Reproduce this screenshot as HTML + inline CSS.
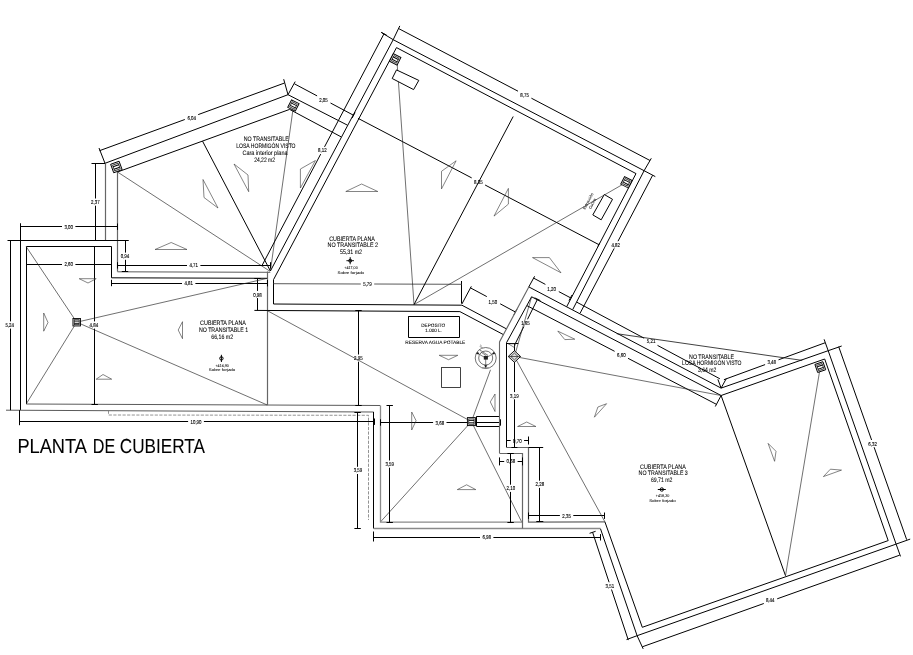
<!DOCTYPE html>
<html><head><meta charset="utf-8"><title>Planta de cubierta</title>
<style>
html,body{margin:0;padding:0;background:#fff}
svg{display:block;filter:grayscale(1)}
text{font-family:"Liberation Sans",sans-serif;fill:#000;stroke:#000;stroke-width:.07;text-rendering:geometricPrecision}
.k{fill:none;stroke:#000;stroke-width:1}
.t{fill:none;stroke:#222;stroke-width:.65}
.k2{fill:none;stroke:#5a5a5a;stroke-width:1}
.g1{fill:none;stroke:#666;stroke-width:1.2}
.g2{fill:none;stroke:#666;stroke-width:1.1}
.t2{fill:none;stroke:#111;stroke-width:.8}
.g{fill:none;stroke:#8a8a8a;stroke-width:1.3}
.d{fill:none;stroke:#777;stroke-width:.8;stroke-dasharray:3.2 1.4}
.tr{fill:none;stroke:#333;stroke-width:.6}
.dm{fill:#000;stroke:#000;stroke-width:.12}
.sm{fill:#000;stroke:#000;stroke-width:.06}
.kw{fill:#fff;stroke:#000;stroke-width:1}
</style></head><body>
<svg width="913" height="655" viewBox="0 0 913 655">
<rect width="913" height="655" fill="#fff"/>
<polyline class="k" points="105.0,163.3 288.0,94.7 347.5,125.2"/>
<polyline class="g1" points="105.5,240.0 105.5,163.3"/>
<polyline class="k" points="117.5,172.0 289.6,109.4 341.0,136.8"/>
<polyline class="g1" points="117.5,271.6 117.5,172.0"/>
<polyline class="k" points="105.0,163.3 99.0,148.0"/>
<polyline class="k" points="91.5,163.5 105.0,163.5"/>
<polyline class="k" points="288.0,94.7 283.7,79.2"/>
<polyline class="k" points="288.0,94.7 295.2,81.6"/>
<polyline class="k" points="99.5,150.7 184.8,119.5"/>
<polyline class="k" points="198.2,114.6 284.3,83.1"/>
<text x="191.7" y="119.5" font-size="5.6" text-anchor="middle" textLength="8.6" lengthAdjust="spacingAndGlyphs" class="dm">6,04</text>
<polyline class="k" points="294.4,83.8 317.1,95.9"/>
<polyline class="k" points="330.5,103.0 353.6,115.3"/>
<polyline class="k" points="352.1,118.1 355.1,112.5"/>
<text x="323.5" y="102.0" font-size="5.6" text-anchor="middle" textLength="8.6" lengthAdjust="spacingAndGlyphs" class="dm">2,05</text>
<polyline class="k" points="95.5,163.3 95.5,198.5"/>
<polyline class="k" points="95.5,205.7 95.5,240.0"/>
<polyline class="k" points="92.1,240.5 98.5,240.5"/>
<text x="95.3" y="204.1" font-size="5.6" text-anchor="middle" textLength="8.6" lengthAdjust="spacingAndGlyphs" class="dm">2,37</text>
<polyline class="t" points="117.5,172.0 270.0,271.3"/>
<polyline class="k" points="202.5,141.1 270.4,271.0"/>
<polyline class="t" points="293.5,105.7 270.4,271.0"/>
<polyline class="k" points="20.5,240.0 20.5,410.2"/>
<polyline class="k" points="7.5,240.5 128.7,240.5"/>
<polyline class="k2" points="117.5,271.8 270.3,272.3"/>
<polyline class="k" points="26.5,404.0 26.5,246.5 111.5,246.5 111.5,277.8 267.3,278.3"/>
<polyline class="k2" points="26.2,404.0 380.2,405.5"/>
<polyline class="k2" points="6.0,410.2 373.7,412.0"/>
<polyline class="g1" points="267.5,271.5 267.5,405.2"/>
<polyline class="k" points="20.0,226.5 62.0,226.5"/>
<polyline class="k" points="75.4,226.5 117.5,226.5"/>
<polyline class="k" points="20.5,229.9 20.5,223.5"/>
<polyline class="k" points="117.5,229.9 117.5,223.5"/>
<text x="68.7" y="228.7" font-size="5.6" text-anchor="middle" textLength="8.6" lengthAdjust="spacingAndGlyphs" class="dm">3,00</text>
<polyline class="k" points="20.5,223.5 20.5,240.0"/>
<polyline class="k" points="26.2,264.5 62.0,264.5"/>
<polyline class="k" points="75.4,264.5 111.5,264.5"/>
<polyline class="k" points="26.5,267.4 26.5,261.0"/>
<polyline class="k" points="111.5,267.4 111.5,261.0"/>
<text x="68.7" y="266.2" font-size="5.6" text-anchor="middle" textLength="8.6" lengthAdjust="spacingAndGlyphs" class="dm">2,60</text>
<polyline class="k" points="117.5,265.5 187.0,265.5"/>
<polyline class="k" points="200.4,265.5 270.6,265.5"/>
<polyline class="k" points="117.5,268.6 117.5,262.2"/>
<polyline class="k" points="270.5,268.6 270.5,262.2"/>
<text x="193.7" y="267.4" font-size="5.6" text-anchor="middle" textLength="8.6" lengthAdjust="spacingAndGlyphs" class="dm">4,71</text>
<polyline class="k" points="111.5,283.5 182.0,283.5"/>
<polyline class="k" points="195.4,283.5 267.4,283.5"/>
<polyline class="k" points="111.5,286.2 111.5,279.8"/>
<polyline class="k" points="267.5,286.4 267.5,280.0"/>
<text x="188.7" y="285.1" font-size="5.6" text-anchor="middle" textLength="8.6" lengthAdjust="spacingAndGlyphs" class="dm">4,81</text>
<polyline class="k" points="125.5,240.0 125.5,252.6"/>
<polyline class="k" points="125.5,259.8 125.5,271.4"/>
<polyline class="k" points="121.8,240.5 128.2,240.5"/>
<polyline class="k" points="121.8,271.5 128.2,271.5"/>
<text x="125.0" y="258.2" font-size="5.6" text-anchor="middle" textLength="8.6" lengthAdjust="spacingAndGlyphs" class="dm">0,94</text>
<polyline class="k" points="257.5,278.2 257.5,290.9"/>
<polyline class="k" points="257.5,298.1 257.5,310.4"/>
<polyline class="k" points="254.3,278.5 260.7,278.5"/>
<text x="257.5" y="296.5" font-size="5.6" text-anchor="middle" textLength="8.6" lengthAdjust="spacingAndGlyphs" class="dm">0,98</text>
<polyline class="k" points="94.5,246.7 94.5,321.4"/>
<polyline class="k" points="94.5,328.6 94.5,404.2"/>
<polyline class="k" points="91.5,246.5 97.9,246.5"/>
<polyline class="k" points="91.5,404.5 97.9,404.5"/>
<text x="93.9" y="327.0" font-size="5.6" text-anchor="middle" textLength="8.6" lengthAdjust="spacingAndGlyphs" class="dm">4,84</text>
<polyline class="k" points="10.5,240.0 10.5,321.4"/>
<polyline class="k" points="10.5,328.6 10.5,410.2"/>
<text x="9.7" y="327.0" font-size="5.6" text-anchor="middle" textLength="8.6" lengthAdjust="spacingAndGlyphs" class="dm">5,24</text>
<polyline class="k" points="19.8,421.5 188.1,421.5"/>
<polyline class="k" points="203.9,421.5 374.2,421.5"/>
<polyline class="k" points="374.5,424.9 374.5,418.5"/>
<text x="196.0" y="423.7" font-size="5.6" text-anchor="middle" textLength="11.0" lengthAdjust="spacingAndGlyphs" class="dm">10,90</text>
<polyline class="k" points="19.5,410.2 19.5,425.2"/>
<polyline class="t" points="76.7,322.2 26.2,246.7"/>
<polyline class="t" points="76.7,322.2 26.2,404.0"/>
<polyline class="t" points="76.7,322.2 267.3,278.3"/>
<polyline class="t" points="76.7,322.2 267.0,404.9"/>
<polyline class="k" points="399.8,25.9 393.2,39.7 270.4,271.0"/>
<polyline class="k" points="381.4,32.5 393.2,39.7 644.1,170.7 655.3,176.6"/>
<polyline class="k" points="651.3,158.3 644.1,170.7 572.7,309.6"/>
<polyline class="k" points="273.6,279.5 396.5,47.6 636.0,173.6 566.7,306.7"/>
<polyline class="k" points="273.5,279.5 273.5,304.0 461.9,305.2 506.7,329.0"/>
<polyline class="k" points="254.4,310.4 459.9,311.6 503.8,334.8"/>
<polyline class="k" points="461.5,281.0 461.5,303.5"/>
<polyline class="k" points="461.9,304.0 471.3,286.4"/>
<polyline class="k" points="384.0,33.8 324.5,146.9"/>
<polyline class="k" points="320.7,154.1 262.2,265.2"/>
<polyline class="k" points="381.2,32.3 386.8,35.3"/>
<text x="322.4" y="152.4" font-size="5.6" text-anchor="middle" textLength="8.6" lengthAdjust="spacingAndGlyphs" class="dm">8,12</text>
<polyline class="k" points="398.5,28.5 518.0,91.2"/>
<polyline class="k" points="531.4,98.2 650.0,160.5"/>
<text x="524.6" y="96.9" font-size="5.6" text-anchor="middle" textLength="8.6" lengthAdjust="spacingAndGlyphs" class="dm">8,75</text>
<polyline class="k" points="652.6,175.3 618.0,241.2"/>
<polyline class="k" points="614.2,248.4 580.2,313.0"/>
<text x="615.7" y="246.6" font-size="5.6" text-anchor="middle" textLength="8.6" lengthAdjust="spacingAndGlyphs" class="dm">4,82</text>
<polyline class="k" points="358.0,118.3 471.7,177.9"/>
<polyline class="k" points="485.1,185.0 598.8,244.6"/>
<polyline class="k" points="597.9,246.4 599.7,242.8"/>
<text x="478.4" y="183.5" font-size="5.6" text-anchor="middle" textLength="8.6" lengthAdjust="spacingAndGlyphs" class="dm">8,35</text>
<polyline class="k2" points="273.6,283.7 360.8,284.0"/>
<polyline class="k2" points="374.2,284.0 461.5,284.3"/>
<text x="367.5" y="286.1" font-size="5.6" text-anchor="middle" textLength="8.6" lengthAdjust="spacingAndGlyphs" class="dm">5,79</text>
<polyline class="k" points="470.3,287.8 486.8,296.6"/>
<polyline class="k" points="500.2,303.8 515.4,312.0"/>
<polyline class="k" points="513.9,314.8 516.9,309.2"/>
<text x="492.8" y="303.5" font-size="5.6" text-anchor="middle" textLength="8.6" lengthAdjust="spacingAndGlyphs" class="dm">1,50</text>
<polyline class="t" points="396.9,60.0 414.0,304.6"/>
<polyline class="k" points="513.2,116.5 414.0,304.6"/>
<polyline class="t" points="626.0,182.5 414.0,304.6"/>
<polyline class="k" points="408.1,316.5 459.5,316.5 459.5,337.5 408.5,337.5 408.5,316.7"/>
<polyline class="t2" points="441.1,367.5 460.5,367.5 460.5,387.5 441.5,387.5 441.5,367.6"/>
<polyline class="k" points="358.5,310.8 358.5,354.5"/>
<polyline class="k" points="358.5,361.7 358.5,405.6"/>
<polyline class="k" points="355.3,310.5 361.7,310.5"/>
<polyline class="k" points="355.3,405.5 361.7,405.5"/>
<text x="358.4" y="360.1" font-size="5.6" text-anchor="middle" textLength="8.6" lengthAdjust="spacingAndGlyphs" class="dm">2,95</text>
<polyline class="t" points="267.2,310.6 471.4,421.6"/>
<polyline class="t" points="471.4,421.6 380.4,522.0"/>
<polyline class="t" points="471.4,421.6 521.6,521.8"/>
<polyline class="t" points="471.4,421.6 490.5,369.8"/>
<polyline class="g" points="380.5,405.5 380.5,522.0 522.3,522.2"/>
<polyline class="k" points="373.5,412.0 373.5,528.5"/>
<polyline class="g" points="373.7,528.5 600.5,528.5"/>
<polyline class="d" points="108.5,410.6 108.5,415.0 368.5,415.3 368.5,520.0"/>
<polyline class="g1" points="499.8,453.5 522.5,453.5 522.5,528.4"/>
<polyline class="g1" points="506.2,447.5 528.5,447.5 528.5,522.2 604.9,521.8"/>
<polyline class="k" points="357.5,412.0 357.5,466.8"/>
<polyline class="k" points="357.5,474.0 357.5,528.5"/>
<polyline class="k" points="354.4,412.5 360.8,412.5"/>
<polyline class="k" points="354.4,528.5 360.8,528.5"/>
<text x="358.0" y="472.4" font-size="5.6" text-anchor="middle" textLength="8.6" lengthAdjust="spacingAndGlyphs" class="dm">3,59</text>
<polyline class="k" points="389.5,405.8 389.5,460.5"/>
<polyline class="k" points="389.5,467.7 389.5,522.0"/>
<polyline class="k" points="386.5,405.5 392.9,405.5"/>
<polyline class="k" points="386.5,522.5 392.9,522.5"/>
<text x="389.7" y="466.1" font-size="5.6" text-anchor="middle" textLength="8.6" lengthAdjust="spacingAndGlyphs" class="dm">3,59</text>
<polyline class="k" points="380.4,422.5 433.1,422.5"/>
<polyline class="k" points="446.5,422.5 500.0,422.5"/>
<polyline class="k" points="380.5,425.7 380.5,419.3"/>
<polyline class="k" points="500.5,425.7 500.5,419.3"/>
<text x="439.8" y="424.5" font-size="5.6" text-anchor="middle" textLength="8.6" lengthAdjust="spacingAndGlyphs" class="dm">3,68</text>
<polyline class="k" points="476.7,416.5 500.0,416.5"/>
<polyline class="k" points="476.7,426.5 500.0,426.5"/>
<polyline class="k" points="476.5,416.3 476.5,426.5"/>
<polyline class="k" points="373.6,537.5 480.0,537.5"/>
<polyline class="k" points="493.4,537.5 600.5,537.5"/>
<polyline class="k" points="373.5,540.3 373.5,533.9"/>
<polyline class="k" points="600.5,540.5 600.5,534.1"/>
<text x="486.7" y="539.3" font-size="5.6" text-anchor="middle" textLength="8.6" lengthAdjust="spacingAndGlyphs" class="dm">6,98</text>
<polyline class="k" points="373.5,531.5 373.5,541.5"/>
<polyline class="k" points="528.5,515.5 559.9,515.5"/>
<polyline class="k" points="573.3,515.5 604.9,515.5"/>
<polyline class="k" points="528.5,518.9 528.5,512.5"/>
<polyline class="k" points="604.5,518.9 604.5,512.5"/>
<text x="566.6" y="517.6" font-size="5.6" text-anchor="middle" textLength="8.6" lengthAdjust="spacingAndGlyphs" class="dm">2,35</text>
<polyline class="k" points="539.5,447.1 539.5,480.7"/>
<polyline class="k" points="539.5,487.9 539.5,521.2"/>
<polyline class="k" points="536.3,521.5 543.3,521.5"/>
<text x="539.8" y="486.3" font-size="5.6" text-anchor="middle" textLength="8.6" lengthAdjust="spacingAndGlyphs" class="dm">2,28</text>
<polyline class="k" points="528.5,447.5 543.2,447.5"/>
<polyline class="k" points="510.5,453.6 510.5,484.7"/>
<polyline class="k" points="510.5,491.9 510.5,522.2"/>
<polyline class="k" points="507.4,453.5 513.8,453.5"/>
<polyline class="k" points="507.4,522.5 513.8,522.5"/>
<text x="510.9" y="490.3" font-size="5.6" text-anchor="middle" textLength="8.6" lengthAdjust="spacingAndGlyphs" class="dm">2,10</text>
<polyline class="k" points="506.2,440.5 510.7,440.5"/>
<polyline class="k" points="524.1,440.5 528.5,440.5"/>
<polyline class="k" points="506.5,444.5 506.5,436.5"/>
<polyline class="k" points="528.5,444.5 528.5,436.5"/>
<text x="517.4" y="442.5" font-size="5.6" text-anchor="middle" textLength="8.6" lengthAdjust="spacingAndGlyphs" class="dm">0,70</text>
<polyline class="k" points="499.5,461.5 504.2,461.5"/>
<polyline class="k" points="517.6,461.5 522.5,461.5"/>
<polyline class="k" points="499.5,465.4 499.5,457.4"/>
<polyline class="k" points="522.5,465.4 522.5,457.4"/>
<text x="510.9" y="463.4" font-size="5.6" text-anchor="middle" textLength="8.6" lengthAdjust="spacingAndGlyphs" class="dm">0,68</text>
<polyline class="k" points="514.5,343.0 514.5,392.1"/>
<polyline class="k" points="514.5,399.3 514.5,447.1"/>
<polyline class="k" points="511.4,447.5 517.4,447.5"/>
<text x="514.4" y="397.7" font-size="5.6" text-anchor="middle" textLength="8.6" lengthAdjust="spacingAndGlyphs" class="dm">3,19</text>
<polyline class="k" points="506.9,343.5 518.3,343.5"/>
<polygon class="tr" points="508.3,343.8 514.1,347.3 515.6,343.8"/>
<polyline class="k" points="534.6,276.3 528.8,286.9 721.1,388.1 828.2,350.7 841.7,346.0"/>
<polyline class="k" points="824.1,339.3 828.2,350.7 896.1,544.1 910.2,539.1"/>
<polyline class="k" points="900.5,556.4 896.1,544.1 637.1,635.7 626.5,639.6"/>
<polyline class="k" points="643.2,648.9 637.1,635.7 600.5,528.8"/>
<polyline class="k" points="506.5,447.1 506.5,342.7 531.6,296.8 721.1,395.5 824.7,359.0 888.2,540.6 642.3,627.3 604.9,521.8"/>
<polyline class="g2" points="528.8,286.9 499.5,342.0 499.5,453.6"/>
<polyline class="k" points="533.6,278.1 545.4,284.4"/>
<polyline class="k" points="558.8,291.6 570.5,297.8"/>
<polyline class="k" points="569.0,300.6 572.0,295.0"/>
<text x="551.6" y="291.0" font-size="5.6" text-anchor="middle" textLength="8.6" lengthAdjust="spacingAndGlyphs" class="dm">1,20</text>
<polyline class="k" points="537.5,299.2 527.5,319.3"/>
<polyline class="k" points="523.9,326.5 515.4,343.4"/>
<polyline class="k" points="534.6,297.8 540.4,300.6"/>
<text x="525.5" y="324.8" font-size="5.6" text-anchor="middle" textLength="8.6" lengthAdjust="spacingAndGlyphs" class="dm">1,65</text>
<polyline class="k" points="527.0,305.7 614.6,351.3"/>
<polyline class="k" points="628.0,358.3 716.4,404.3"/>
<text x="621.3" y="356.7" font-size="5.6" text-anchor="middle" textLength="8.6" lengthAdjust="spacingAndGlyphs" class="dm">6,60</text>
<polyline class="k" points="721.1,395.5 715.3,406.5"/>
<polyline class="k" points="576.8,302.2 644.1,338.2"/>
<polyline class="k" points="657.5,345.4 719.9,378.8"/>
<text x="651.1" y="343.2" font-size="5.6" text-anchor="middle" textLength="8.6" lengthAdjust="spacingAndGlyphs" class="dm">5,21</text>
<polyline class="k" points="721.1,388.1 717.9,379.3"/>
<polyline class="k" points="721.1,388.1 726.3,378.6"/>
<polyline class="k" points="723.9,379.7 765.1,364.6"/>
<polyline class="k" points="778.5,359.8 825.0,342.8"/>
<text x="771.7" y="363.8" font-size="5.6" text-anchor="middle" textLength="8.6" lengthAdjust="spacingAndGlyphs" class="dm">3,48</text>
<polyline class="k" points="838.7,346.7 871.6,440.0"/>
<polyline class="k" points="874.1,447.2 906.7,539.7"/>
<text x="872.6" y="445.7" font-size="5.6" text-anchor="middle" textLength="8.6" lengthAdjust="spacingAndGlyphs" class="dm">6,32</text>
<polyline class="k" points="642.3,646.8 763.8,603.5"/>
<polyline class="k" points="777.2,598.8 899.6,555.2"/>
<text x="770.2" y="602.3" font-size="5.6" text-anchor="middle" textLength="8.6" lengthAdjust="spacingAndGlyphs" class="dm">8,44</text>
<polyline class="k" points="592.6,532.3 609.1,582.3"/>
<polyline class="k" points="611.5,589.5 628.3,640.1"/>
<polyline class="k" points="589.6,533.3 595.6,531.3"/>
<text x="609.9" y="588.0" font-size="5.6" text-anchor="middle" textLength="8.6" lengthAdjust="spacingAndGlyphs" class="dm">3,51</text>
<polyline class="t" points="514.4,356.5 531.6,296.8"/>
<polyline class="t" points="514.4,356.5 721.1,395.5"/>
<polyline class="t" points="514.4,356.5 604.9,521.8"/>
<polyline class="k" points="721.1,395.5 785.5,575.7"/>
<polyline class="t" points="820.3,367.1 785.5,575.7"/>
<polyline class="t2" points="616.7,333.7 802.2,360.4"/>
<polygon class="tr" points="203.0,179.5 204.0,197.5 218.0,208.0"/>
<polygon class="tr" points="234.0,164.0 248.0,175.0 248.7,191.7"/>
<polygon class="tr" points="300.4,169.0 315.4,160.5 300.4,188.0"/>
<polygon class="tr" points="155.0,249.5 171.2,242.5 187.0,249.5"/>
<polygon class="tr" points="79.2,278.7 96.2,278.7 88.0,283.0"/>
<polygon class="tr" points="43.7,313.0 48.0,322.5 43.7,331.2"/>
<polygon class="tr" points="182.5,321.7 178.2,330.0 182.5,338.7"/>
<polygon class="tr" points="96.2,379.2 103.0,374.5 111.7,379.2"/>
<polygon class="tr" points="345.8,191.5 361.6,184.0 377.8,191.5"/>
<polygon class="tr" points="441.5,171.3 456.1,160.8 441.5,188.9"/>
<polygon class="tr" points="494.0,216.1 508.4,188.4 508.4,204.1"/>
<polygon class="tr" points="532.5,257.6 549.4,257.6 561.0,272.8"/>
<polygon class="tr" points="439.2,355.3 457.8,355.3 448.5,359.7"/>
<polygon class="tr" points="495.0,394.0 490.3,401.9 495.0,411.5"/>
<polygon class="tr" points="411.7,412.0 416.1,420.7 411.7,430.0"/>
<polygon class="tr" points="457.3,489.6 466.6,484.8 475.8,489.6"/>
<polygon class="tr" points="557.8,331.1 574.8,339.2 564.8,339.6"/>
<polygon class="tr" points="517.6,426.5 526.7,422.0 535.9,426.5"/>
<polygon class="tr" points="594.4,417.2 597.9,407.0 606.6,403.7"/>
<polygon class="tr" points="768.1,443.4 776.0,451.3 774.6,461.3"/>
<polygon class="tr" points="823.4,476.6 830.4,469.2 841.5,470.1"/>
<polygon class="kw" points="396.5,69.9 418.8,80.4 413.6,89.6 392.2,78.5"/>
<polygon class="kw" points="604.3,194.5 612.5,199.3 601.2,219.8 592.8,214.9"/>
<g transform="translate(116.4 167.0) rotate(-20)"><rect x="-4.50" y="-4.50" width="9" height="9" fill="#e4e4e4" stroke="#000" stroke-width=".9"/><rect x="-2.97" y="-2.97" width="5.94" height="5.94" fill="#fff" stroke="#111" stroke-width=".7"/><path d="M-2.97 -1.35H2.97M-2.97 1.35H2.97" stroke="#000" stroke-width=".95" fill="none"/></g>
<g transform="translate(293.4 105.5) rotate(27)"><rect x="-4.25" y="-4.25" width="8.5" height="8.5" fill="#e4e4e4" stroke="#000" stroke-width=".9"/><rect x="-2.81" y="-2.81" width="5.61" height="5.61" fill="#fff" stroke="#111" stroke-width=".7"/><path d="M-2.81 -1.27H2.81M-2.81 1.27H2.81" stroke="#000" stroke-width=".95" fill="none"/></g>
<g transform="translate(395.2 59.4) rotate(27)"><rect x="-4.25" y="-4.25" width="8.5" height="8.5" fill="#e4e4e4" stroke="#000" stroke-width=".9"/><rect x="-2.81" y="-2.81" width="5.61" height="5.61" fill="#fff" stroke="#111" stroke-width=".7"/><path d="M-2.81 -1.27H2.81M-2.81 1.27H2.81" stroke="#000" stroke-width=".95" fill="none"/></g>
<g transform="translate(626.4 182.3) rotate(27)"><rect x="-4.25" y="-4.25" width="8.5" height="8.5" fill="#e4e4e4" stroke="#000" stroke-width=".9"/><rect x="-2.81" y="-2.81" width="5.61" height="5.61" fill="#fff" stroke="#111" stroke-width=".7"/><path d="M-2.81 -1.27H2.81M-2.81 1.27H2.81" stroke="#000" stroke-width=".95" fill="none"/></g>
<g transform="translate(820.3 367.1) rotate(-19)"><rect x="-4.25" y="-4.25" width="8.5" height="8.5" fill="#e4e4e4" stroke="#000" stroke-width=".9"/><rect x="-2.81" y="-2.81" width="5.61" height="5.61" fill="#fff" stroke="#111" stroke-width=".7"/><path d="M-2.81 -1.27H2.81M-2.81 1.27H2.81" stroke="#000" stroke-width=".95" fill="none"/></g>
<g transform="translate(76.7 322.2) rotate(0)"><rect x="-3.75" y="-3.75" width="7.5" height="7.5" fill="#e4e4e4" stroke="#000" stroke-width=".9"/><rect x="-2.48" y="-2.48" width="4.95" height="4.95" fill="#fff" stroke="#111" stroke-width=".7"/><path d="M-2.48 -1.12H2.48M-2.48 1.12H2.48" stroke="#000" stroke-width=".95" fill="none"/></g>
<g transform="translate(471.4 421.6) rotate(0)"><rect x="-4.00" y="-4.00" width="8" height="8" fill="#e4e4e4" stroke="#000" stroke-width=".9"/><rect x="-2.64" y="-2.64" width="5.28" height="5.28" fill="#fff" stroke="#111" stroke-width=".7"/><path d="M-2.64 -1.20H2.64M-2.64 1.20H2.64" stroke="#000" stroke-width=".95" fill="none"/></g>
<g transform="translate(514.4 356.5)"><path d="M-6.2 0L0 -5.8L6.2 0L0 5.8Z" fill="#ddd" stroke="#000" stroke-width=".9"/><path d="M-3.6 0L0 -3.4L3.6 0L0 3.4ZM-6.2 0H6.2" fill="none" stroke="#222" stroke-width=".7"/></g>
<g transform="translate(485.7 358)" fill="none" stroke="#444" stroke-width=".75"><circle r="10.5"/><circle r="7"/><path d="M0 0V10.5M0 0L-9.1 -5.2M0 0L9.1 -5.2M-6.5 -8.5L2.5 -2.5M-5 -6L0.5 -2.5" stroke="#555"/><path d="M-7.8 -5.8L-6.8 -4L-9.3 -4.2ZM7.8 -5.8L6.8 -4L9.3 -4.2ZM-1.1 7.4L1.1 7.4L0 9.4Z" fill="#111" stroke="#111" stroke-width=".5"/><rect x="-1.9" y="-2.1" width="4.1" height="3.7" fill="#222" stroke="none"/><path d="M-6 -11.5L-3 -10.2M-5.6 -13.2L-4 -12M-3.5 9.9H3" stroke="#777"/></g>
<text x="266.2" y="140.7" font-size="6.4" text-anchor="middle" textLength="45.0" lengthAdjust="spacingAndGlyphs">NO TRANSITABLE</text>
<text x="265.9" y="148.0" font-size="6.4" text-anchor="middle" textLength="59.3" lengthAdjust="spacingAndGlyphs">LOSA HORMIGÓN VISTO</text>
<text x="265.0" y="155.0" font-size="6.4" text-anchor="middle" textLength="45.0" lengthAdjust="spacingAndGlyphs">Cara interior plana</text>
<text x="264.6" y="161.7" font-size="6.4" text-anchor="middle" textLength="20.8" lengthAdjust="spacingAndGlyphs">24,22 m2</text>
<text x="223.0" y="325.4" font-size="6.4" text-anchor="middle" textLength="45.9" lengthAdjust="spacingAndGlyphs">CUBIERTA PLANA</text>
<text x="223.5" y="331.8" font-size="6.4" text-anchor="middle" textLength="49.2" lengthAdjust="spacingAndGlyphs">NO TRANSITABLE 1</text>
<text x="222.2" y="338.6" font-size="6.4" text-anchor="middle" textLength="21.8" lengthAdjust="spacingAndGlyphs">66,16 m2</text>
<text x="352.1" y="240.7" font-size="6.4" text-anchor="middle" textLength="45.8" lengthAdjust="spacingAndGlyphs">CUBIERTA PLANA</text>
<text x="352.8" y="247.0" font-size="6.4" text-anchor="middle" textLength="50.5" lengthAdjust="spacingAndGlyphs">NO TRANSITABLE 2</text>
<text x="351.0" y="253.7" font-size="6.4" text-anchor="middle" textLength="22.0" lengthAdjust="spacingAndGlyphs">55,31 m2</text>
<text x="662.9" y="468.7" font-size="6.4" text-anchor="middle" textLength="45.7" lengthAdjust="spacingAndGlyphs">CUBIERTA PLANA</text>
<text x="663.2" y="474.9" font-size="6.4" text-anchor="middle" textLength="49.2" lengthAdjust="spacingAndGlyphs">NO TRANSITABLE 3</text>
<text x="661.7" y="481.9" font-size="6.4" text-anchor="middle" textLength="21.6" lengthAdjust="spacingAndGlyphs">69,71 m2</text>
<text x="711.5" y="358.7" font-size="6.4" text-anchor="middle" textLength="44.8" lengthAdjust="spacingAndGlyphs">NO TRANSITABLE</text>
<text x="711.8" y="365.1" font-size="6.4" text-anchor="middle" textLength="59.4" lengthAdjust="spacingAndGlyphs">LOSA HORMIGÓN VISTO</text>
<text x="707.2" y="372.2" font-size="6.4" text-anchor="middle" textLength="18.4" lengthAdjust="spacingAndGlyphs">3,64 m2</text>
<text x="433.2" y="326.9" font-size="4.8" text-anchor="middle" textLength="24.0" lengthAdjust="spacingAndGlyphs" class="sm">DEPOSITO</text>
<text x="433.6" y="332.0" font-size="4.8" text-anchor="middle" textLength="16.5" lengthAdjust="spacingAndGlyphs" class="sm">1.000 L.</text>
<text x="435.3" y="344.3" font-size="4.8" text-anchor="middle" textLength="60.0" lengthAdjust="spacingAndGlyphs" class="sm">RESERVA AGUA POTABLE</text>
<path d="M221.4 354.79999999999995V362.0" stroke="#000" stroke-width="1" fill="none"/><circle cx="221.4" cy="358.4" r="1.7" fill="none" stroke="#000" stroke-width="1"/>
<text x="222.2" y="366.6" font-size="3.9" text-anchor="middle" textLength="13.5" lengthAdjust="spacingAndGlyphs" class="sm">+416,90</text>
<text x="222.0" y="371.0" font-size="3.9" text-anchor="middle" textLength="26.5" lengthAdjust="spacingAndGlyphs" class="sm">Sobre forjado</text>
<path d="M350.2 257.09999999999997V264.3M346.4 260.7H354.0" stroke="#000" stroke-width=".9" fill="none"/><circle cx="350.2" cy="260.7" r="1.5" fill="none" stroke="#000" stroke-width="1"/>
<text x="351.0" y="269.0" font-size="3.9" text-anchor="middle" textLength="13.5" lengthAdjust="spacingAndGlyphs" class="sm">+417,00</text>
<text x="350.8" y="274.2" font-size="3.9" text-anchor="middle" textLength="26.5" lengthAdjust="spacingAndGlyphs" class="sm">Sobre forjado</text>
<path d="M657.8 489.5H665.8" stroke="#000" stroke-width="1" fill="none"/><circle cx="661.8" cy="489.5" r="1.7" fill="none" stroke="#000" stroke-width="1"/>
<text x="662.6" y="497.3" font-size="3.9" text-anchor="middle" textLength="13.5" lengthAdjust="spacingAndGlyphs" class="sm">+418,20</text>
<text x="662.4" y="501.6" font-size="3.9" text-anchor="middle" textLength="26.5" lengthAdjust="spacingAndGlyphs" class="sm">Sobre forjado</text>
<text x="589.3" y="201.9" font-size="3.8" text-anchor="middle" textLength="18.0" lengthAdjust="spacingAndGlyphs" transform="rotate(-62 589.3 201.9)" class="sm">Extracción</text>
<text x="593.6" y="204.2" font-size="3.8" text-anchor="middle" textLength="11.5" lengthAdjust="spacingAndGlyphs" transform="rotate(-62 593.6 204.2)" class="sm">Cocina</text>
<text y="452.6" font-size="20.3"><tspan x="17.4" textLength="68.6" lengthAdjust="spacingAndGlyphs">PLANTA</tspan> <tspan x="92.8" textLength="22.4" lengthAdjust="spacingAndGlyphs">DE</tspan> <tspan x="119.8" textLength="85.2" lengthAdjust="spacingAndGlyphs">CUBIERTA</tspan></text>
</svg>
</body></html>
